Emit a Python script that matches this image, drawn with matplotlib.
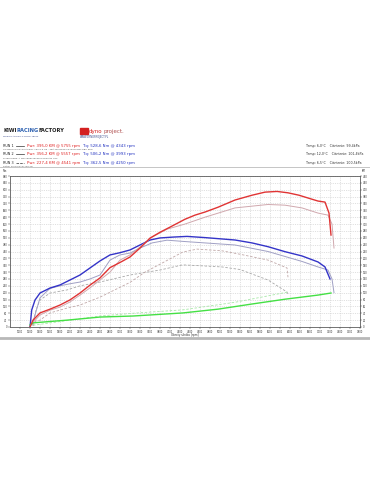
import numpy as np
import matplotlib.pyplot as plt

# run 1 (red/blue), run 2 (light solid), run 3 (dashed)
rpm1 = [1200, 1234, 1300, 1400, 1600, 1800, 2000, 2200, 2400, 2600, 2800, 3000, 3200, 3400,
        3600, 3800, 4060, 4340, 4700, 5300, 5640, 5960, 6300, 6640, 6960, 7100, 7200]
tq1 = [0, 99, 157, 198, 227, 245, 274, 303, 344, 385, 420, 433, 449, 478,
       507, 519, 524, 528, 521, 507, 490, 468, 439, 414, 379, 350, 280]
rpm1p = [1200, 1260, 1400, 1600, 1800, 2000, 2200, 2400, 2600, 2800, 3000, 3200, 3400, 3600,
         3800, 4000, 4300, 4500, 4700, 4960, 5300, 5640, 5900, 6140, 6360, 6580, 6780, 6960,
         7100, 7180, 7220]
pw1 = [0, 20, 41, 52, 64, 79, 99, 122, 143, 173, 188, 204, 230, 259,
       276, 291, 314, 326, 335, 349, 370, 384, 393, 395, 391, 384, 375, 367,
       364, 332, 268]

rpm2 = [1240, 1400, 1600, 1800, 2000, 2200, 2400, 2600, 2800, 3000, 3200, 3400, 3640,
        3940, 4300, 4700, 5300, 5960, 6300, 6640, 6960, 7160, 7240, 7280]
tq2 = [10, 170, 225, 240, 252, 262, 280, 303, 390, 420, 431, 460, 490,
       506, 498, 490, 478, 440, 411, 382, 350, 332, 280, 200]
pw2 = [10, 35, 49, 58, 73, 93, 114, 137, 160, 195, 210, 233, 262,
       285, 300, 320, 347, 357, 355, 347, 332, 326, 300, 230]

rpm3 = [1260, 1320, 1400, 1600, 1940, 2200, 2600, 3200, 3500, 3800, 4250, 4540, 5040,
        5400, 5960, 6340, 6360]
tq3 = [12, 99, 157, 198, 216, 240, 262, 303, 318, 332, 362, 358, 350,
       335, 274, 204, 190]
pw3 = [3, 18, 20, 41, 55, 64, 87, 130, 160, 183, 218, 227, 222,
       212, 195, 172, 145]

# drag / loss power
rpm_loss = [1200, 1260, 1940, 2600, 3260, 4260, 4960, 5640, 6300, 6960, 7220]
loss1 = [6, 12, 20, 29, 32, 41, 52, 67, 81, 93, 99]
rpm_loss3 = [1260, 2600, 3260, 4260, 5300, 6360]
loss3 = [5, 32, 40, 50, 72, 102]

runs = ['RUN 1', 'RUN 2', 'RUN 3']
pwr_txt = ['Pwr: 395,0 KM @ 5755 rpm', 'Pwr: 356,2 KM @ 5557 rpm', 'Pwr: 227,4 KM @ 4541 rpm']
tq_txt = ['Tq: 528,6 Nm @ 4343 rpm', 'Tq: 506,2 Nm @ 3993 rpm', 'Tq: 362,5 Nm @ 4250 rpm']
desc = ['COOBOO NISSAN PATROL Y62 5.6 V8 - Test Mercedes wydechowy EBC PRO',
        'przed mapa + Mercedes wydech NISSAN Y62',
        'patrol ok NISSAN Y62 FR']
env_txt = ['Temp: 6,0°C    Ciśnienie: 99,4kPa', 'Temp: 12,0°C    Ciśnienie: 101,4kPa',
           'Temp: 6,5°C    Ciśnienie: 100,5kPa']
xticks = list(range(1000, 7801, 200))
nm_ticks = list(range(0, 881, 40))
km_ticks = list(range(0, 441, 20))

W, H = 370, 480
fig = plt.figure(figsize=(W / 100, H / 100), dpi=100)
renderer = fig.canvas.get_renderer()

def fx(px):
    return px / W

def fy(py):
    return 1 - py / H

# header logo, pieces placed one after another
x0 = 3
for word, col in [('KIWI', '#222222'), ('RACING', '#2b5fb0'), ('FACTORY', '#222222')]:
    t = fig.text(fx(x0), fy(131), word, fontsize=3.7, weight='bold', color=col, va='center')
    x0 += t.get_window_extent(renderer).width
fig.text(fx(3), fy(136.5), 'MODIFICATIONS & DYNO TESTS', fontsize=1.6, color='#334488', va='center')
fig.patches.append(plt.Rectangle((fx(80), fy(134)), fx(8), 6 / H, color='#d42020',
                                 transform=fig.transFigure, figure=fig))
x0 = 89
for word, col in [('dyno', '#d42020'), ('project.', '#b05050')]:
    t = fig.text(fx(x0), fy(131), word, fontsize=4, color=col, va='center')
    x0 += t.get_window_extent(renderer).width + 1
fig.text(fx(80), fy(137.5), 'WWW.DYNOPROJECT.PL', fontsize=1.8, color='#334488', va='center')

for i in range(3):
    yy = 146 + i * 8.3
    fig.text(fx(3), fy(yy), runs[i], fontsize=2.4, color='#222222', va='center')
    fig.add_artist(plt.Line2D([fx(16), fx(24)], [fy(yy), fy(yy)], lw=0.5,
                              color='#333333', ls='-' if i < 2 else '--'))
    fig.text(fx(27), fy(yy), pwr_txt[i], fontsize=2.8, color='#e02020', va='center')
    fig.text(fx(83), fy(yy), tq_txt[i], fontsize=2.8, color='#2030c0', va='center')
    fig.text(fx(3), fy(yy + 3.6), desc[i], fontsize=1.7, color='#555555', va='center')
    fig.text(fx(306), fy(yy), env_txt[i], fontsize=2.3, color='#333333', va='center')

fig.add_artist(plt.Line2D([0, 1], [fy(167), fy(167)], lw=0.6, color='#bbbbbb'))
fig.add_artist(plt.Line2D([0, 1], [fy(338), fy(338)], lw=2.0, color='#b8b8b8'))

ax = fig.add_axes([fx(10), fy(327), fx(350), (327 - 176) / H])
ax.set_xlim(800, 7800)
ax.set_ylim(0, 880)
ax.set_xticks(xticks)
ax.set_yticks(nm_ticks)
ax.grid(True, ls=(0, (2, 2)), lw=0.4, color='#c8c8c8')
ax.tick_params(labelsize=1.8, length=1.2, width=0.3, pad=0.8, colors='#333333')
for s in ax.spines.values():
    s.set_linewidth(0.4)
    s.set_color('#555555')

ax2 = ax.twinx()
ax2.set_ylim(0, 440)
ax2.set_yticks(km_ticks)
ax2.tick_params(labelsize=1.8, length=1.2, width=0.3, pad=0.8, colors='#333333')
for s in ax2.spines.values():
    s.set_linewidth(0.4)
    s.set_color('#555555')

ax.plot(rpm3, tq3, color='#a8a8a8', lw=0.6, ls=(0, (3, 2)))
ax2.plot(rpm3, pw3, color='#c0a8a8', lw=0.6, ls=(0, (3, 2)))
ax.plot(rpm2, tq2, color='#a0a0c4', lw=0.7)
ax2.plot(rpm2, pw2, color='#d0a8ae', lw=0.7)
ax2.plot(rpm_loss3, loss3, color='#a8e8a8', lw=0.6, ls=(0, (3, 2)))
ax2.plot(rpm_loss, loss1, color='#44e044', lw=1.0)
ax.plot(rpm1, tq1, color='#3434c8', lw=1.0)
ax2.plot(rpm1p, pw1, color='#e03434', lw=1.0)

fig.text(fx(3), fy(171.5), 'Nm', fontsize=1.8, color='#333333', va='center')
fig.text(fx(362), fy(171.5), 'KM', fontsize=1.8, color='#333333', va='center')
fig.text(0.5, fy(335), 'Obroty silnika [rpm]', fontsize=2, color='#333333', ha='center', va='center')

fig.savefig('out.png', dpi=100)
